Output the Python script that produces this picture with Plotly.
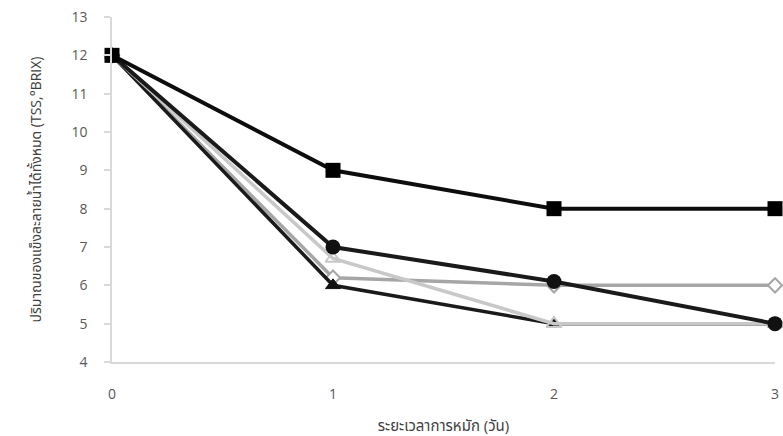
import plotly.graph_objects as go

days = [0, 1, 2, 3]
tss_square = [12, 9, 8, 8]
tss_circle = [12, 7, 6.1, 5]
tss_diamond = [12, 6.2, 6, 6]
tss_tri_black = [12, 6, 5, 5]
tss_tri_gray = [12, 6.7, 5, 5]
y_ticks = list(range(4, 14))
x_ticks = [0, 1, 2, 3]

fig = go.Figure()
fig.add_trace(go.Scatter(x=days, y=tss_diamond, mode="lines+markers",
                         line=dict(color="#a6a6a6", width=3.5),
                         marker=dict(symbol="diamond", size=11, color="white",
                                     line=dict(color="#a6a6a6", width=2))))
fig.add_trace(go.Scatter(x=days, y=tss_tri_black, mode="lines+markers",
                         line=dict(color="#1a1a1a", width=3.5),
                         marker=dict(symbol="triangle-up", size=13, color="#111111",
                                     line=dict(color="#111111", width=1))))
fig.add_trace(go.Scatter(x=days, y=tss_tri_gray, mode="lines+markers",
                         line=dict(color="#c8c8c8", width=3.5),
                         marker=dict(symbol="triangle-up-open", size=13, color="#c8c8c8",
                                     line=dict(color="#c8c8c8", width=2))))
fig.add_trace(go.Scatter(x=days, y=tss_circle, mode="lines+markers",
                         line=dict(color="#1a1a1a", width=4),
                         marker=dict(symbol="circle", size=15, color="#111111")))
fig.add_trace(go.Scatter(x=days, y=tss_square, mode="lines+markers",
                         line=dict(color="#0d0d0d", width=4),
                         marker=dict(symbol="square", size=15, color="#000000")))

fig.update_traces(cliponaxis=False, showlegend=False)

font_family = "Open Sans, Noto Sans Thai, DejaVu Sans, sans-serif"
fig.update_layout(
    width=783, height=436,
    margin=dict(l=112, r=8, t=17, b=74),
    paper_bgcolor="white", plot_bgcolor="white",
    font=dict(family=font_family, color="#595959", size=14),
    xaxis=dict(range=[0, 3], tickvals=x_ticks, showgrid=False, zeroline=False,
               showline=True, linecolor="#d9d9d9", linewidth=1.5,
               ticks="", ticklen=0, automargin=False, ticklabeloverflow="allow",
               ticklabelstandoff=18,
               title=dict(text="ระยะเวลาการหมัก (วัน)", font=dict(size=15, color="#404040"), standoff=19),
               tickfont=dict(size=14, color="#595959")),
    yaxis=dict(range=[4, 13], tickvals=y_ticks, showgrid=False, zeroline=False,
               showline=True, linecolor="#d9d9d9", linewidth=1.5,
               ticks="outside", ticklen=6, tickcolor="#d9d9d9", tickwidth=1.5,
               automargin=False, ticklabelstandoff=14,
               title=dict(text="ปริมาณของแข็งละลายน้ำได้ทั้งหมด (TSS,°BRIX)", font=dict(size=14, color="#404040"), standoff=27),
               tickfont=dict(size=14, color="#595959")),
)

fig.write_html("out.html", config={"displayModeBar": False},
               post_script="document.body.style.margin='0';document.body.style.overflow='hidden';")
